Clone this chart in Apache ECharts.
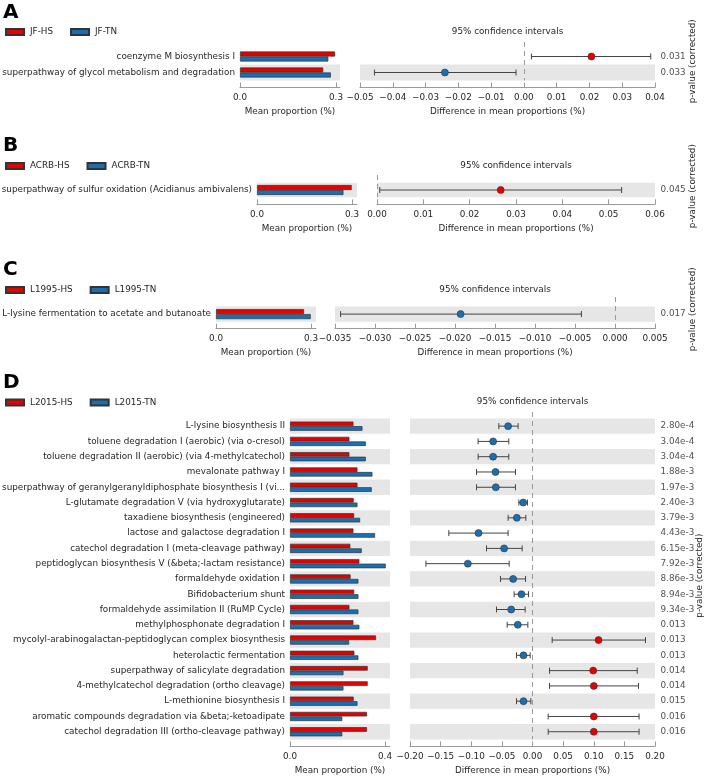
<!DOCTYPE html>
<html>
<head>
<meta charset="utf-8">
<script src="https://cdn.jsdelivr.net/npm/echarts@6/dist/echarts.min.js"></script>
<style>html,body{margin:0;padding:0;background:#fff;}#chart{width:708px;height:776px;}</style>
</head>
<body>
<div id="chart"></div>
<script>
// ---------- DATA ----------
// Panel A
const A_groups = ['JF-HS', 'JF-TN'];
const A_pathways = ['coenzyme M biosynthesis I', 'superpathway of glycol metabolism and degradation'];
const A_meanHS = [0.297, 0.260];
const A_meanTN = [0.276, 0.284];
const A_diff = [0.0206, -0.0241];
const A_ciLow = [0.0023, -0.0456];
const A_ciHigh = [0.0387, -0.0024];
const A_pval = ['0.031', '0.033'];
const A_meanTicks = [0, 0.3];
const A_diffTicks = [-0.05, -0.04, -0.03, -0.02, -0.01, 0, 0.01, 0.02, 0.03, 0.04];

// Panel B
const B_groups = ['ACRB-HS', 'ACRB-TN'];
const B_pathways = ['superpathway of sulfur oxidation (Acidianus ambivalens)'];
const B_meanHS = [0.299];
const B_meanTN = [0.273];
const B_diff = [0.0267];
const B_ciLow = [0.0006];
const B_ciHigh = [0.0528];
const B_pval = ['0.045'];
const B_meanTicks = [0, 0.3];
const B_diffTicks = [0, 0.01, 0.02, 0.03, 0.04, 0.05, 0.06];

// Panel C
const C_groups = ['L1995-HS', 'L1995-TN'];
const C_pathways = ['L-lysine fermentation to acetate and butanoate'];
const C_meanHS = [0.278];
const C_meanTN = [0.299];
const C_diff = [-0.0193];
const C_ciLow = [-0.0343];
const C_ciHigh = [-0.0042];
const C_pval = ['0.017'];
const C_meanTicks = [0, 0.3];
const C_diffTicks = [-0.035, -0.030, -0.025, -0.020, -0.015, -0.010, -0.005, 0, 0.005];

// Panel D
const D_groups = ['L2015-HS', 'L2015-TN'];
const D_pathways = [
  'L-lysine biosynthesis II',
  'toluene degradation I (aerobic) (via o-cresol)',
  'toluene degradation II (aerobic) (via 4-methylcatechol)',
  'mevalonate pathway I',
  'superpathway of geranylgeranyldiphosphate biosynthesis I (vi...',
  'L-glutamate degradation V (via hydroxyglutarate)',
  'taxadiene biosynthesis (engineered)',
  'lactose and galactose degradation I',
  'catechol degradation I (meta-cleavage pathway)',
  'peptidoglycan biosynthesis V (&beta;-lactam resistance)',
  'formaldehyde oxidation I',
  'Bifidobacterium shunt',
  'formaldehyde assimilation II (RuMP Cycle)',
  'methylphosphonate degradation I',
  'mycolyl-arabinogalactan-peptidoglycan complex biosynthesis',
  'heterolactic fermentation',
  'superpathway of salicylate degradation',
  '4-methylcatechol degradation (ortho cleavage)',
  'L-methionine biosynthesis I',
  'aromatic compounds degradation via &beta;-ketoadipate',
  'catechol degradation III (ortho-cleavage pathway)'
];
const D_meanHS = [0.267, 0.250, 0.250, 0.284, 0.284, 0.268, 0.270, 0.267, 0.254, 0.292, 0.255, 0.270, 0.250, 0.267, 0.362, 0.271, 0.327, 0.327, 0.268, 0.324, 0.324];
const D_meanTN = [0.305, 0.319, 0.319, 0.347, 0.344, 0.284, 0.295, 0.358, 0.302, 0.403, 0.288, 0.288, 0.288, 0.292, 0.249, 0.288, 0.225, 0.225, 0.284, 0.220, 0.220];
const D_diff = [-0.0398, -0.0643, -0.0643, -0.0604, -0.0599, -0.0152, -0.0256, -0.0882, -0.0463, -0.1056, -0.0316, -0.0180, -0.0348, -0.0240, 0.1078, -0.0147, 0.0991, 0.1001, -0.0147, 0.1001, 0.1001];
const D_ciLow = [-0.0550, -0.0888, -0.0888, -0.0914, -0.0914, -0.0223, -0.0398, -0.1366, -0.0751, -0.1740, -0.0522, -0.0300, -0.0588, -0.0414, 0.0321, -0.0261, 0.0278, 0.0278, -0.0261, 0.0256, 0.0256];
const D_ciHigh = [-0.0235, -0.0387, -0.0387, -0.0278, -0.0278, -0.0082, -0.0109, -0.0398, -0.0169, -0.0381, -0.0114, -0.0065, -0.0120, -0.0076, 0.1845, -0.0038, 0.1710, 0.1730, -0.0027, 0.1740, 0.1740];
const D_pval = ['2.80e-4', '3.04e-4', '3.04e-4', '1.88e-3', '1.97e-3', '2.40e-3', '3.79e-3', '4.43e-3', '6.15e-3', '7.92e-3', '8.86e-3', '8.94e-3', '9.34e-3', '0.013', '0.013', '0.013', '0.014', '0.014', '0.015', '0.016', '0.016'];
const D_meanTicks = [0, 0.4];
const D_diffTicks = [-0.20, -0.15, -0.10, -0.05, 0, 0.05, 0.10, 0.15, 0.20];

const panelLetters = ['A', 'B', 'C', 'D'];

// ---------- STYLE / LAYOUT ----------
const FONT = 'DejaVu Sans';
const TXT = '#262626';
const RED = '#e60000';
const BLUE = '#1a6fb3';
const BAND = '#e6e6e6';
const AXIS = '#9a9a9a';
const FS = 8.8;

const panels = [
  { groups: A_groups, names: A_pathways, hs: A_meanHS, tn: A_meanTN, diff: A_diff, lo: A_ciLow, hi: A_ciHigh, p: A_pval, mt: A_meanTicks, dt: A_diffTicks,
    L: { letterTop: 3, legendY: 32.5, barLeft: 240, barMax: 0.3125, rowTop: 48.5, rowH: 16, ciLeft: 360, ciRight: 655, dashTop: 42, barW: 5, dec: 2, pGap: 33 } },
  { groups: B_groups, names: B_pathways, hs: B_meanHS, tn: B_meanTN, diff: B_diff, lo: B_ciLow, hi: B_ciHigh, p: B_pval, mt: B_meanTicks, dt: B_diffTicks,
    L: { letterTop: 136, legendY: 166.5, barLeft: 257, barMax: 0.3158, rowTop: 182.7, rowH: 14.6, ciLeft: 377, ciRight: 655, dashTop: 175, barW: 5, dec: 2, pGap: 33 } },
  { groups: C_groups, names: C_pathways, hs: C_meanHS, tn: C_meanTN, diff: C_diff, lo: C_ciLow, hi: C_ciHigh, p: C_pval, mt: C_meanTicks, dt: C_diffTicks,
    L: { letterTop: 260, legendY: 290.5, barLeft: 216, barMax: 0.3158, rowTop: 306.5, rowH: 15.2, ciLeft: 335, ciRight: 655, dashTop: 297, barW: 5, dec: 3, pGap: 33 } },
  { groups: D_groups, names: D_pathways, hs: D_meanHS, tn: D_meanTN, diff: D_diff, lo: D_ciLow, hi: D_ciHigh, p: D_pval, mt: D_meanTicks, dt: D_diffTicks,
    L: { letterTop: 373, legendY: 403, barLeft: 290, barMax: 0.421, rowTop: 418.5, rowH: 15.28, ciLeft: 410, ciRight: 655, dashTop: 412, barW: 4.6, dec: 2, pGap: 40 } }
];

function fmtTick(v, dec) {
  if (Math.abs(v) < 1e-9) v = 0;
  const s = Math.abs(v).toFixed(dec);
  return (v < 0 ? '\u2212' : '') + s;
}

const txt = { fontFamily: FONT, fontSize: FS, color: TXT };

const option = {
  animation: false,
  backgroundColor: '#fff',
  textStyle: { fontFamily: FONT },
  title: [], legend: [], grid: [], xAxis: [], yAxis: [], series: []
};

panels.forEach((P, k) => {
  const L = P.L;
  const n = P.names.length;
  const bi = 2 * k, ci = 2 * k + 1;
  const rowsH = n * L.rowH;

  option.title.push({ text: panelLetters[k], left: 3, top: L.letterTop, padding: 0,
    textStyle: { fontFamily: FONT, fontSize: 20, fontWeight: 'bold', color: '#000' } });
  option.title.push({ text: '95% confidence intervals', left: (L.ciLeft + L.ciRight) / 2, top: L.legendY - 5.5, textAlign: 'center', padding: 0,
    textStyle: Object.assign({ fontWeight: 'normal' }, txt) });

  option.legend.push({ data: P.groups, left: 5, top: L.legendY - 5, padding: 0, itemWidth: 18, itemHeight: 6, itemGap: 17,
    icon: 'rect', selectedMode: false, textStyle: Object.assign({ padding: [0, 0, 0, 1] }, txt) });

  option.grid.push({ left: L.barLeft, top: L.rowTop, width: 100, height: rowsH, outerBoundsMode: 'none' });
  option.grid.push({ left: L.ciLeft, top: L.dashTop, width: L.ciRight - L.ciLeft, height: L.rowTop + rowsH - L.dashTop, outerBoundsMode: 'none' });

  const axisCommon = {
    offset: 7,
    axisLine: { show: true, onZero: false, lineStyle: { color: AXIS, width: 1 } },
    splitLine: { show: false },
    nameLocation: 'middle', nameGap: 20,
    nameTextStyle: txt
  };

  option.xAxis.push(Object.assign({}, axisCommon, {
    gridIndex: bi, type: 'value', position: 'bottom', min: 0, max: L.barMax,
    axisTick: { show: true, inside: true, length: 5, lineStyle: { color: AXIS }, customValues: P.mt },
    axisLabel: Object.assign({ customValues: P.mt, margin: 6, formatter: v => v.toFixed(1) }, txt),
    name: 'Mean proportion (%)'
  }));
  const dMin = P.dt[0], dMax = P.dt[P.dt.length - 1];
  const dInt = Math.round((P.dt[1] - P.dt[0]) * 1e6) / 1e6;
  option.xAxis.push(Object.assign({}, axisCommon, {
    gridIndex: ci, type: 'value', position: 'bottom', min: dMin, max: dMax, interval: dInt,
    axisTick: { show: true, inside: true, length: 5, lineStyle: { color: AXIS } },
    axisLabel: Object.assign({ margin: 6, formatter: v => fmtTick(v, L.dec), showMinLabel: true, showMaxLabel: true }, txt),
    name: 'Difference in mean proportions (%)'
  }));

  option.yAxis.push({
    gridIndex: bi, type: 'category', inverse: true, data: P.names,
    axisLine: { show: false, onZero: false }, axisTick: { show: false },
    axisLabel: Object.assign({ margin: 5, interval: 0 }, txt),
    splitArea: { show: true, interval: 0, areaStyle: { color: (n % 2) ? [BAND, 'rgba(0,0,0,0)'] : ['rgba(0,0,0,0)', BAND] } }
  });
  option.yAxis.push({
    gridIndex: ci, type: 'value', inverse: true, position: 'right',
    min: -0.5 - (L.rowTop - L.dashTop) / L.rowH, max: n - 0.5,
    axisLine: { show: false, onZero: false }, axisTick: { show: false }, axisLabel: { show: false }, splitLine: { show: false },
    name: 'p-value (corrected)', nameLocation: 'middle', nameGap: L.pGap, nameTextStyle: txt
  });

  // mean proportion bars
  option.series.push({
    type: 'bar', name: P.groups[0], xAxisIndex: bi, yAxisIndex: bi, data: P.hs,
    barWidth: L.barW, barGap: '0%',
    itemStyle: { color: RED, borderColor: '#333', borderWidth: 0.7 }
  });
  option.series.push({
    type: 'bar', name: P.groups[1], xAxisIndex: bi, yAxisIndex: bi, data: P.tn,
    barWidth: L.barW, barGap: '0%',
    itemStyle: { color: BLUE, borderColor: '#333', borderWidth: 0.7 }
  });

  // p-value labels + row bands
  const bands = [];
  for (let i = 0; i < n; i++) if ((n - 1 - i) % 2 === 0) bands.push([{ yAxis: i - 0.5 }, { yAxis: i + 0.5 }]);
  option.series.push({
    type: 'scatter', xAxisIndex: ci, yAxisIndex: ci, z: 1, symbolSize: 1, clip: false,
    itemStyle: { color: 'rgba(0,0,0,0)', borderWidth: 0 },
    data: P.p.map((s, i) => [dMax, i, s]),
    label: Object.assign({ show: true, position: 'right', distance: 5, formatter: q => q.value[2] }, txt),
    markArea: { silent: true, itemStyle: { color: BAND }, data: bands }
  });

  // confidence interval bars
  option.series.push({
    type: 'custom', xAxisIndex: ci, yAxisIndex: ci, z: 3,
    data: P.lo.map((l, i) => [l, P.hi[i], i]),
    encode: { x: [0, 1], y: 2 },
    renderItem: (params, api) => {
      const a = api.coord([api.value(0), api.value(2)]);
      const b = api.coord([api.value(1), api.value(2)]);
      const h = 3;
      const st = { stroke: '#444', lineWidth: 1 };
      return { type: 'group', children: [
        { type: 'line', shape: { x1: a[0], y1: a[1], x2: b[0], y2: b[1] }, style: st },
        { type: 'line', shape: { x1: a[0], y1: a[1] - h, x2: a[0], y2: a[1] + h }, style: st },
        { type: 'line', shape: { x1: b[0], y1: b[1] - h, x2: b[0], y2: b[1] + h }, style: st }
      ] };
    },
    markLine: { silent: true, symbol: 'none', label: { show: false },
      lineStyle: { color: '#999', type: [5, 4], width: 1 }, data: [{ xAxis: 0 }] }
  });

  // mean difference points
  option.series.push({
    type: 'scatter', xAxisIndex: ci, yAxisIndex: ci, z: 4, symbolSize: 7,
    data: P.diff.map((d, i) => [d, i]),
    itemStyle: { color: q => (q.value[0] > 0 ? RED : BLUE), borderColor: '#333', borderWidth: 0.6, opacity: 1 }
  });
});

const chart = echarts.init(document.getElementById('chart'), null, { renderer: 'canvas' });
chart.setOption(option);
</script>
</body>
</html>
